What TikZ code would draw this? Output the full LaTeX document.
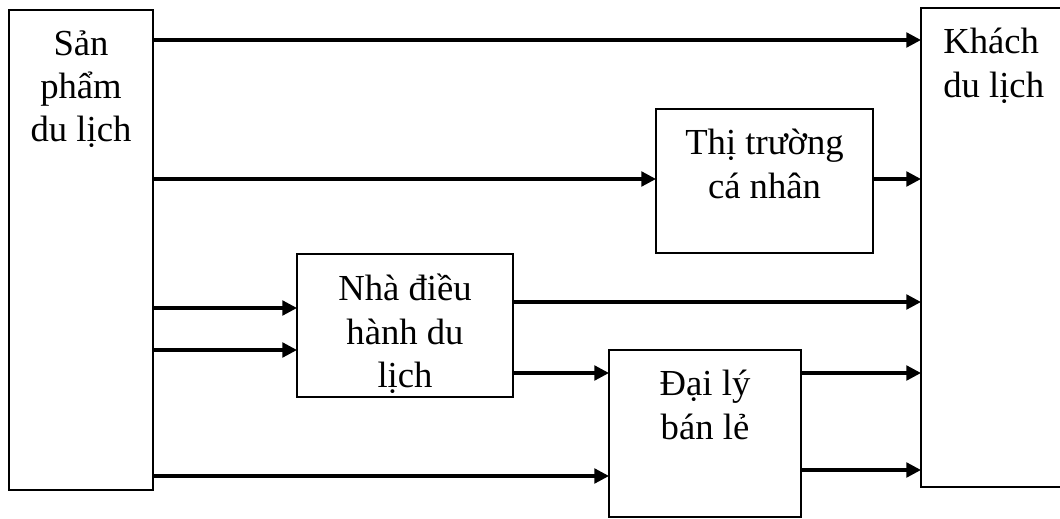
\documentclass[tikz,border=0pt]{standalone}
\usepackage{fontspec}
\setmainfont{Liberation Serif}
\usetikzlibrary{positioning,arrows.meta}
\tikzset{
  block/.style   = {shape=rectangle, draw, line width=1.8pt,
                    outer sep=0pt, inner sep=0pt},
  caption/.style = {inner sep=0pt, align=center,
                    font=\fontsize{27.5}{32.5}\selectfont,
                    execute at begin node=\rule{0pt}{26pt}},
  flow/.style    = {line width=2.4pt, -{Triangle[length=11pt,width=11pt]}}
}

\begin{document}
\begin{tikzpicture}[x=0.75pt, y=-0.75pt]
  \clip (0,0) rectangle (1060,518);

  \node [block, minimum width=108pt,    minimum height=360pt]    (src)  at (81,250)      {};
  \node [block, minimum width=119.25pt, minimum height=359.25pt] (tour) at (1000.5,247.5) {};
  \node [block, minimum width=162.75pt, minimum height=108pt]    (mkt)  at (764.5,181)   {};
  \node [block, minimum width=162pt,    minimum height=107.25pt] (op)   at (405,325.5)   {};
  \node [block, minimum width=144pt,    minimum height=125.25pt] (agt)  at (705,433.5)   {};

  \node [caption, below=15pt of src.north]  (src-t) {Sản\\phẩm\\du lịch};
  \node [caption, align=left, below right=15pt and 16.5pt of tour.north west] (tour-t) {Khách\\du lịch};
  \node [caption, below=15pt of mkt.north]  (mkt-t) {Thị trường\\cá nhân};
  \node [caption, below=15pt of op.north]   (op-t)  {Nhà điều\\hành du\\lịch};
  \node [caption, below=15pt of agt.north]  (agt-t) {Đại lý\\bán lẻ};

  \coordinate (r1) at (0,40);
  \coordinate (r2) at (0,179);
  \coordinate (r3) at (0,302);
  \coordinate (r4) at (0,308);
  \coordinate (r5) at (0,350);
  \coordinate (r6) at (0,373);
  \coordinate (r7) at (0,470);
  \coordinate (r8) at (0,476);

  \draw [flow] (src.east |- r1) -- (tour.west |- r1);
  \draw [flow] (src.east |- r2) -- (mkt.west |- r2);
  \draw [flow] (mkt.east |- r2) -- (tour.west |- r2);
  \draw [flow] (src.east |- r4) -- (op.west |- r4);
  \draw [flow] (src.east |- r5) -- (op.west |- r5);
  \draw [flow] (op.east |- r3)  -- (tour.west |- r3);
  \draw [flow] (op.east |- r6)  -- (agt.west |- r6);
  \draw [flow] (agt.east |- r6) -- (tour.west |- r6);
  \draw [flow] (agt.east |- r7) -- (tour.west |- r7);
  \draw [flow] (src.east |- r8) -- (agt.west |- r8);
\end{tikzpicture}
\end{document}
